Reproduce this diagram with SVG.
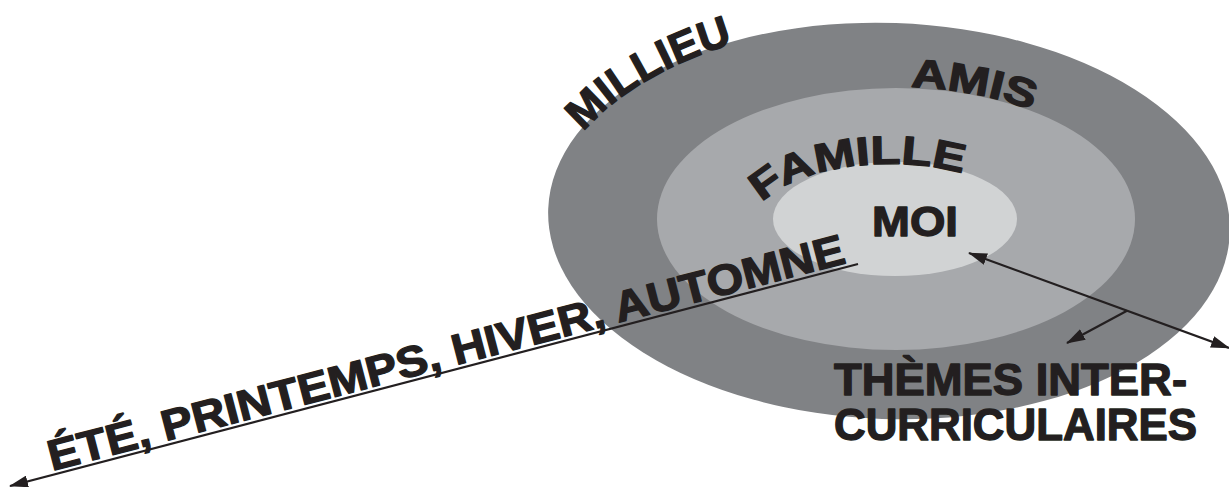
<svg xmlns="http://www.w3.org/2000/svg" width="1229" height="487" viewBox="0 0 1229 487">
  <style>
    .lbl { font-family: "Liberation Sans", Arial, sans-serif; font-weight: bold; fill: #231f20; stroke: #231f20; stroke-width: 1.3; stroke-linejoin: round; }
    .conn { stroke: #231f20; stroke-width: 2.2; fill: none; }
  </style>
  <defs>
    <marker id="head" viewBox="0 0 19 12" markerWidth="19" markerHeight="12" refX="18" refY="6" markerUnits="userSpaceOnUse" orient="auto-start-reverse">
      <path d="M0,0 L19,6 L0,12 z" fill="#231f20"/>
    </marker>
    <!-- baselines for the curved ring labels -->
    <path id="arcMilieu" d="M 548,220 A 340 198 0 0 1 1228,220"/>
    <path id="arcAmis" d="M 656,219 A 240 132 0 0 1 1136,219"/>
    <path id="arcFamille" d="M 750,229.5 A 140 65.5 0 0 1 1030,229.5"/>
  </defs>

  <!-- concentric rings -->
  <g id="ring-milieu">
    <ellipse cx="889" cy="221" rx="341" ry="198" fill="#808285" transform="rotate(2 889 221)"/>
  </g>
  <g id="ring-famille">
    <ellipse cx="896" cy="219" rx="239" ry="131" fill="#a7a9ac"/>
  </g>
  <g id="ring-moi">
    <ellipse cx="895" cy="219" rx="122" ry="57" fill="#d1d3d4"/>
  </g>

  <!-- ring labels -->
  <g id="label-milieu">
    <text class="lbl" font-size="43"><textPath href="#arcMilieu" startOffset="97" textLength="176" lengthAdjust="spacingAndGlyphs">MILLIEU</textPath></text>
  </g>
  <g id="label-amis">
    <text class="lbl" font-size="40"><textPath href="#arcAmis" startOffset="313" textLength="124" lengthAdjust="spacingAndGlyphs">AMIS</textPath></text>
  </g>
  <g id="label-famille">
    <text class="lbl" font-size="40"><textPath href="#arcFamille" startOffset="30" textLength="210" lengthAdjust="spacingAndGlyphs">FAMILLE</textPath></text>
  </g>
  <g id="label-moi">
    <text class="lbl" x="872" y="236" font-size="42" textLength="86" lengthAdjust="spacingAndGlyphs">MOI</text>
  </g>

  <!-- connectors -->
  <g id="connectors">
    <path class="conn" d="M858,264 L10,486" marker-end="url(#head)"/>
    <path class="conn" d="M969,253 L1229,348" marker-start="url(#head)" marker-end="url(#head)"/>
    <path class="conn" d="M1127,310.7 L1067,343" marker-end="url(#head)"/>
  </g>

  <!-- seasons label along the timeline -->
  <g id="label-saisons">
    <text class="lbl" font-size="43" transform="translate(52,471) rotate(-14.67)" textLength="822" lengthAdjust="spacingAndGlyphs">ÉTÉ, PRINTEMPS, HIVER, AUTOMNE</text>
  </g>

  <!-- cross-curricular themes label -->
  <g id="label-themes">
    <text class="lbl" x="834" y="395" font-size="44" textLength="353" lengthAdjust="spacingAndGlyphs">THÈMES INTER-</text>
    <text class="lbl" x="834" y="440" font-size="44" textLength="363" lengthAdjust="spacingAndGlyphs">CURRICULAIRES</text>
  </g>
</svg>
